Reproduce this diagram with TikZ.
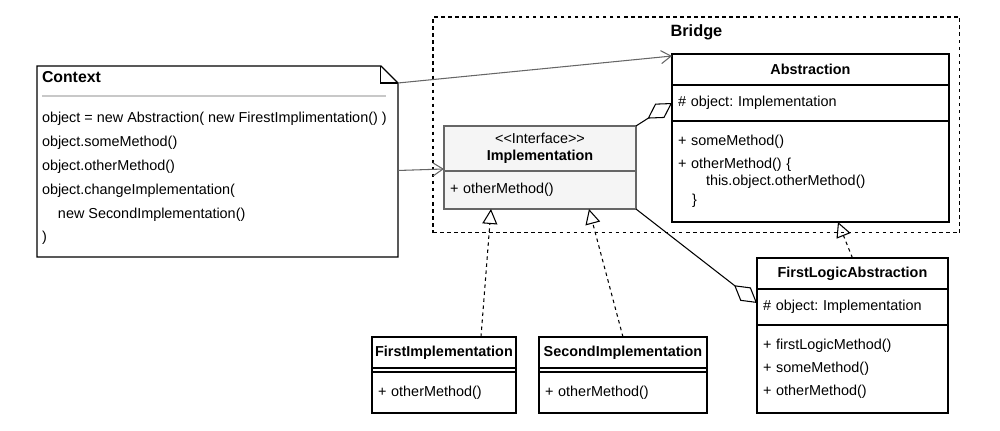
\documentclass[tikz,border=0pt]{standalone}
\usepackage{fontspec}
\setmainfont{Liberation Sans}
\usepackage{xcolor}
\usepackage{tikz}
\usetikzlibrary{positioning, arrows.meta}
\definecolor{linegray}{HTML}{666666}
\definecolor{implfill}{HTML}{F5F5F5}
\definecolor{sepgray}{HTML}{C8C8C8}
\frenchspacing
\tikzset{
    x=0.02cm, y=-0.02cm, % one unit is one pixel of the drawing
    every node/.style={font=\fontsize{8.2}{9.6}\selectfont, outer sep=0pt},
    classname/.style={draw, line width=0.7pt, minimum width=#1, minimum height=0.62cm, inner sep=0pt, font=\fontsize{8.2}{9.6}\selectfont\bfseries}, % head of a class box
    members/.style={draw, line width=0.7pt, text width=#1, align=left, inner xsep=0.12cm, inner ysep=0pt}, % fields and methods
    dep/.style={draw=linegray, line width=0.6pt, -{Straight Barb[length=0.2cm, width=0.26cm]}}, % plain arrow
    aggr/.style={line width=0.6pt, -{Diamond[open, length=0.58cm, width=0.34cm]}}, % aggregation
    realize/.style={line width=0.6pt, dash pattern=on 2pt off 2pt, -{Triangle[open, length=0.3cm, width=0.3cm]}}, % implements
}
\def\gap{\\[0.12cm]}

\begin{document}
\begin{tikzpicture}
    \useasboundingbox (0,0) rectangle (1000,430);

    % the pattern frame
    \node[draw, line width=0.6pt, dash pattern=on 2pt off 2pt, minimum width=10.54cm, minimum height=4.32cm, anchor=north west] (bridge) at (433,17) {};
    \node[font=\fontsize{9.3}{11}\selectfont\bfseries] (bridgename) at ([yshift=-0.3cm]bridge.north) {Bridge};

    % client note
    \node[minimum width=7.22cm, minimum height=3.82cm, anchor=north west] (ctx) at (37,66) {};
    \draw[line width=0.7pt] (ctx.north west) -- ([xshift=-0.34cm]ctx.north east) -- ([yshift=-0.34cm]ctx.north east) -- (ctx.south east) -- (ctx.south west) -- cycle;
    \draw[line width=0.6pt] ([xshift=-0.34cm]ctx.north east) -- ([xshift=-0.34cm, yshift=-0.34cm]ctx.north east) -- ([yshift=-0.34cm]ctx.north east);
    \node[font=\fontsize{9}{11}\selectfont\bfseries, anchor=west, inner sep=0pt] (ctxname) at (42,77) {Context};
    \draw[sepgray, line width=1.2pt] ([xshift=0.1cm, yshift=-0.6cm]ctx.north west) -- ([xshift=-0.24cm, yshift=-0.6cm]ctx.north east);
    \node[anchor=north west, align=left, inner sep=0pt, font=\fontsize{8.2}{13.6}\selectfont] (ctxbody) at (42,112) {object = new Abstraction( new FirestImplimentation() )\\
        object.someMethod()\\
        object.otherMethod()\\
        object.changeImplementation(\\
        \hspace*{0.32cm}new SecondImplementation()\\
        )};

    % abstraction side
    \node[classname=5.54cm, anchor=north west] (abs) at (672,54) {Abstraction};
    \node[members=5.30cm, minimum height=0.72cm, below=0pt of abs] (absattr) {\# object: Implementation};
    \node[members=5.30cm, minimum height=2.02cm, below=0pt of absattr] (absops) {+ someMethod()\gap
        + otherMethod() \{\\
        \hspace*{0.56cm}this.object.otherMethod()\\[0.04cm]
        \hspace*{0.28cm}\}};

    \node[classname=3.82cm, anchor=north west] (fla) at (757,258) {FirstLogicAbstraction};
    \node[members=3.58cm, minimum height=0.72cm, below=0pt of fla] (flaattr) {\# object: Implementation};
    \node[members=3.58cm, minimum height=1.76cm, below=0pt of flaattr] (flaops) {+ firstLogicMethod()\gap
        + someMethod()\gap
        + otherMethod()};

    % implementation side
    \node[draw=linegray, fill=implfill, line width=0.7pt, minimum width=3.84cm, minimum height=0.9cm, inner sep=0pt, align=center, anchor=north west] (implhead) at (444,126) {<\kern0pt<Interface>\kern0pt>\\ \textbf{Implementation}};
    \node[members=3.60cm, draw=linegray, fill=implfill, minimum height=0.76cm, below=0pt of implhead] (implops) {+ otherMethod()};

    \node[classname=2.88cm, anchor=north west] (fi) at (372,337) {FirstImplementation};
    \node[members=2.64cm, minimum height=0.08cm, below=0pt of fi] (fisep) {};
    \node[members=2.64cm, minimum height=0.82cm, below=0pt of fisep] (fiops) {+ otherMethod()};

    \node[classname=3.36cm, anchor=north west] (si) at (539,337) {SecondImplementation};
    \node[members=3.12cm, minimum height=0.08cm, below=0pt of si] (sisep) {};
    \node[members=3.12cm, minimum height=0.82cm, below=0pt of sisep] (siops) {+ otherMethod()};

    % relations
    \draw[dep] ([yshift=-0.34cm]ctx.north east) -- ([yshift=-0.04cm]abs.north west);
    \draw[dep] ([yshift=-0.18cm]ctx.east) -- ([yshift=0.04cm]implhead.south west);
    \draw[aggr] (implhead.north east) -- (absattr.west);
    \draw[aggr] (implops.south east) -- ([yshift=0.08cm]flaattr.west);
    \draw[realize] ([xshift=0.74cm]fi.north) -- ([xshift=-0.98cm]implops.south);
    \draw[realize] (si.north) -- ([xshift=0.98cm]implops.south);
    \draw[realize] (fla.north) -- ([xshift=0.55cm]absops.south);
\end{tikzpicture}
\end{document}
